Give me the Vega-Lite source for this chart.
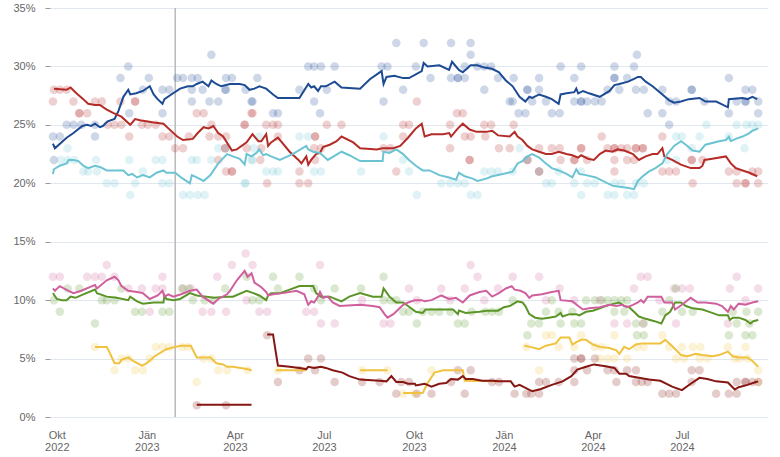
{
"$schema": "https://vega.github.io/schema/vega-lite/v6.json",
"width": 718, "height": 409, "autosize": "none",
"padding": {"left": 50, "top": 8, "right": 12, "bottom": 40},
"background": "white",
"config": {"view": {"stroke": null}, "font": "Liberation Sans",
 "axisY": {"values": [0, 5, 10, 15, 20, 25, 30, 35], "labelExpr": "datum.value + '%'", "grid": true, "gridColor": "#e1e7ee", "gridWidth": 1, "domain": false, "ticks": true, "tickSize": 5, "tickColor": "#999999", "labelPadding": 10, "labelColor": "#666666", "labelFontSize": 11, "labelFont": "Liberation Sans", "title": null},
 "range": {"category": ["#1c4b94","#b52b27","#6cc4d3","#5b9527","#cf609d","#f0c23f","#f0c23f","#861612"]}},
"datasets": {
"avg": [
{"d":"2022-09-27","p":"FPÖ","v":23.4},{"d":"2022-09-29","p":"FPÖ","v":23.0},{"d":"2022-10-11","p":"FPÖ","v":23.9},{"d":"2022-10-18","p":"FPÖ","v":24.3},{"d":"2022-10-27","p":"FPÖ","v":24.9},{"d":"2022-11-01","p":"FPÖ","v":25.0},{"d":"2022-11-05","p":"FPÖ","v":24.9},{"d":"2022-11-09","p":"FPÖ","v":25.1},{"d":"2022-11-14","p":"FPÖ","v":24.8},{"d":"2022-11-17","p":"FPÖ","v":24.9},{"d":"2022-11-22","p":"FPÖ","v":25.3},{"d":"2022-11-29","p":"FPÖ","v":25.5},{"d":"2022-12-03","p":"FPÖ","v":26.2},{"d":"2022-12-08","p":"FPÖ","v":27.4},{"d":"2022-12-13","p":"FPÖ","v":28.0},{"d":"2022-12-15","p":"FPÖ","v":27.6},{"d":"2022-12-21","p":"FPÖ","v":27.7},{"d":"2022-12-28","p":"FPÖ","v":27.9},{"d":"2023-01-04","p":"FPÖ","v":28.3},{"d":"2023-01-08","p":"FPÖ","v":27.6},{"d":"2023-01-12","p":"FPÖ","v":27.2},{"d":"2023-01-17","p":"FPÖ","v":26.8},{"d":"2023-01-19","p":"FPÖ","v":27.2},{"d":"2023-01-26","p":"FPÖ","v":27.6},{"d":"2023-02-04","p":"FPÖ","v":28.1},{"d":"2023-02-12","p":"FPÖ","v":28.3},{"d":"2023-02-17","p":"FPÖ","v":28.3},{"d":"2023-02-21","p":"FPÖ","v":28.5},{"d":"2023-02-27","p":"FPÖ","v":28.7},{"d":"2023-03-05","p":"FPÖ","v":28.3},{"d":"2023-03-08","p":"FPÖ","v":28.8},{"d":"2023-03-13","p":"FPÖ","v":28.5},{"d":"2023-03-18","p":"FPÖ","v":28.3},{"d":"2023-03-27","p":"FPÖ","v":28.5},{"d":"2023-04-06","p":"FPÖ","v":28.5},{"d":"2023-04-11","p":"FPÖ","v":28.4},{"d":"2023-04-16","p":"FPÖ","v":28.0},{"d":"2023-04-21","p":"FPÖ","v":28.1},{"d":"2023-04-26","p":"FPÖ","v":28.3},{"d":"2023-05-03","p":"FPÖ","v":28.1},{"d":"2023-05-10","p":"FPÖ","v":27.6},{"d":"2023-05-15","p":"FPÖ","v":27.3},{"d":"2023-06-06","p":"FPÖ","v":27.3},{"d":"2023-06-15","p":"FPÖ","v":28.5},{"d":"2023-06-18","p":"FPÖ","v":28.2},{"d":"2023-06-21","p":"FPÖ","v":28.3},{"d":"2023-06-25","p":"FPÖ","v":27.9},{"d":"2023-06-28","p":"FPÖ","v":28.3},{"d":"2023-07-03","p":"FPÖ","v":28.3},{"d":"2023-07-12","p":"FPÖ","v":28.7},{"d":"2023-07-19","p":"FPÖ","v":28.2},{"d":"2023-08-07","p":"FPÖ","v":28.1},{"d":"2023-08-17","p":"FPÖ","v":28.9},{"d":"2023-08-29","p":"FPÖ","v":29.6},{"d":"2023-08-31","p":"FPÖ","v":28.5},{"d":"2023-09-03","p":"FPÖ","v":29.1},{"d":"2023-09-11","p":"FPÖ","v":29.2},{"d":"2023-09-20","p":"FPÖ","v":29.0},{"d":"2023-09-26","p":"FPÖ","v":29.0},{"d":"2023-10-09","p":"FPÖ","v":29.6},{"d":"2023-10-11","p":"FPÖ","v":30.3},{"d":"2023-10-15","p":"FPÖ","v":30.0},{"d":"2023-10-27","p":"FPÖ","v":30.1},{"d":"2023-11-06","p":"FPÖ","v":29.7},{"d":"2023-11-09","p":"FPÖ","v":30.4},{"d":"2023-11-16","p":"FPÖ","v":29.7},{"d":"2023-11-20","p":"FPÖ","v":29.5},{"d":"2023-11-28","p":"FPÖ","v":30.1},{"d":"2023-12-05","p":"FPÖ","v":30.1},{"d":"2023-12-12","p":"FPÖ","v":29.9},{"d":"2023-12-20","p":"FPÖ","v":29.8},{"d":"2023-12-27","p":"FPÖ","v":29.5},{"d":"2024-01-03","p":"FPÖ","v":28.8},{"d":"2024-01-10","p":"FPÖ","v":28.3},{"d":"2024-01-17","p":"FPÖ","v":27.4},{"d":"2024-01-23","p":"FPÖ","v":27.0},{"d":"2024-01-27","p":"FPÖ","v":27.4},{"d":"2024-01-30","p":"FPÖ","v":27.3},{"d":"2024-02-06","p":"FPÖ","v":27.6},{"d":"2024-02-13","p":"FPÖ","v":27.4},{"d":"2024-02-19","p":"FPÖ","v":27.2},{"d":"2024-02-26","p":"FPÖ","v":26.8},{"d":"2024-02-28","p":"FPÖ","v":27.6},{"d":"2024-03-05","p":"FPÖ","v":27.7},{"d":"2024-03-13","p":"FPÖ","v":27.8},{"d":"2024-03-15","p":"FPÖ","v":28.1},{"d":"2024-03-17","p":"FPÖ","v":27.7},{"d":"2024-03-22","p":"FPÖ","v":27.9},{"d":"2024-03-28","p":"FPÖ","v":27.7},{"d":"2024-04-08","p":"FPÖ","v":27.4},{"d":"2024-04-18","p":"FPÖ","v":27.9},{"d":"2024-04-23","p":"FPÖ","v":28.4},{"d":"2024-04-28","p":"FPÖ","v":28.5},{"d":"2024-05-07","p":"FPÖ","v":28.7},{"d":"2024-05-12","p":"FPÖ","v":28.9},{"d":"2024-05-17","p":"FPÖ","v":29.1},{"d":"2024-05-20","p":"FPÖ","v":29.1},{"d":"2024-05-25","p":"FPÖ","v":28.7},{"d":"2024-06-01","p":"FPÖ","v":28.3},{"d":"2024-06-11","p":"FPÖ","v":27.6},{"d":"2024-06-18","p":"FPÖ","v":27.1},{"d":"2024-06-23","p":"FPÖ","v":26.9},{"d":"2024-06-30","p":"FPÖ","v":27.0},{"d":"2024-07-08","p":"FPÖ","v":27.2},{"d":"2024-07-19","p":"FPÖ","v":27.3},{"d":"2024-07-25","p":"FPÖ","v":27.0},{"d":"2024-08-05","p":"FPÖ","v":27.0},{"d":"2024-08-10","p":"FPÖ","v":26.8},{"d":"2024-08-17","p":"FPÖ","v":26.5},{"d":"2024-08-18","p":"FPÖ","v":27.2},{"d":"2024-09-01","p":"FPÖ","v":27.3},{"d":"2024-09-06","p":"FPÖ","v":27.2},{"d":"2024-09-11","p":"FPÖ","v":27.4},{"d":"2024-09-16","p":"FPÖ","v":27.2},
{"d":"2022-09-28","p":"SPÖ","v":28.1},{"d":"2022-10-11","p":"SPÖ","v":28.0},{"d":"2022-10-15","p":"SPÖ","v":28.2},{"d":"2022-10-21","p":"SPÖ","v":27.7},{"d":"2022-10-28","p":"SPÖ","v":27.2},{"d":"2022-11-02","p":"SPÖ","v":26.8},{"d":"2022-11-09","p":"SPÖ","v":26.7},{"d":"2022-11-14","p":"SPÖ","v":26.7},{"d":"2022-11-21","p":"SPÖ","v":26.3},{"d":"2022-11-28","p":"SPÖ","v":26.0},{"d":"2022-12-06","p":"SPÖ","v":25.7},{"d":"2022-12-15","p":"SPÖ","v":25.0},{"d":"2022-12-20","p":"SPÖ","v":25.5},{"d":"2022-12-25","p":"SPÖ","v":25.4},{"d":"2023-01-08","p":"SPÖ","v":25.2},{"d":"2023-01-18","p":"SPÖ","v":25.1},{"d":"2023-01-23","p":"SPÖ","v":24.7},{"d":"2023-02-01","p":"SPÖ","v":24.0},{"d":"2023-02-07","p":"SPÖ","v":23.7},{"d":"2023-02-17","p":"SPÖ","v":23.8},{"d":"2023-02-22","p":"SPÖ","v":24.3},{"d":"2023-02-28","p":"SPÖ","v":24.8},{"d":"2023-03-05","p":"SPÖ","v":24.7},{"d":"2023-03-10","p":"SPÖ","v":24.9},{"d":"2023-03-15","p":"SPÖ","v":24.3},{"d":"2023-03-20","p":"SPÖ","v":24.0},{"d":"2023-03-29","p":"SPÖ","v":22.8},{"d":"2023-04-03","p":"SPÖ","v":22.9},{"d":"2023-04-13","p":"SPÖ","v":23.5},{"d":"2023-04-19","p":"SPÖ","v":24.2},{"d":"2023-04-25","p":"SPÖ","v":23.6},{"d":"2023-04-28","p":"SPÖ","v":23.6},{"d":"2023-05-03","p":"SPÖ","v":24.2},{"d":"2023-05-05","p":"SPÖ","v":23.2},{"d":"2023-05-08","p":"SPÖ","v":23.5},{"d":"2023-05-15","p":"SPÖ","v":23.9},{"d":"2023-05-27","p":"SPÖ","v":22.7},{"d":"2023-06-05","p":"SPÖ","v":22.0},{"d":"2023-06-08","p":"SPÖ","v":21.7},{"d":"2023-06-13","p":"SPÖ","v":22.3},{"d":"2023-06-15","p":"SPÖ","v":21.6},{"d":"2023-06-18","p":"SPÖ","v":22.0},{"d":"2023-06-23","p":"SPÖ","v":22.5},{"d":"2023-06-27","p":"SPÖ","v":22.6},{"d":"2023-06-30","p":"SPÖ","v":23.1},{"d":"2023-07-07","p":"SPÖ","v":23.3},{"d":"2023-07-14","p":"SPÖ","v":23.6},{"d":"2023-07-19","p":"SPÖ","v":24.0},{"d":"2023-07-31","p":"SPÖ","v":23.5},{"d":"2023-08-07","p":"SPÖ","v":23.0},{"d":"2023-08-24","p":"SPÖ","v":22.9},{"d":"2023-08-30","p":"SPÖ","v":23.0},{"d":"2023-09-10","p":"SPÖ","v":23.0},{"d":"2023-09-17","p":"SPÖ","v":23.2},{"d":"2023-09-25","p":"SPÖ","v":23.9},{"d":"2023-10-03","p":"SPÖ","v":24.7},{"d":"2023-10-09","p":"SPÖ","v":25.1},{"d":"2023-10-12","p":"SPÖ","v":24.0},{"d":"2023-10-19","p":"SPÖ","v":24.2},{"d":"2023-10-31","p":"SPÖ","v":24.2},{"d":"2023-11-06","p":"SPÖ","v":24.3},{"d":"2023-11-08","p":"SPÖ","v":24.0},{"d":"2023-11-15","p":"SPÖ","v":24.7},{"d":"2023-11-20","p":"SPÖ","v":25.1},{"d":"2023-11-27","p":"SPÖ","v":24.6},{"d":"2023-12-04","p":"SPÖ","v":24.4},{"d":"2023-12-14","p":"SPÖ","v":24.4},{"d":"2023-12-20","p":"SPÖ","v":24.5},{"d":"2023-12-26","p":"SPÖ","v":24.1},{"d":"2024-01-07","p":"SPÖ","v":24.0},{"d":"2024-01-12","p":"SPÖ","v":24.4},{"d":"2024-01-15","p":"SPÖ","v":24.0},{"d":"2024-01-20","p":"SPÖ","v":23.7},{"d":"2024-01-25","p":"SPÖ","v":23.2},{"d":"2024-01-30","p":"SPÖ","v":22.9},{"d":"2024-02-06","p":"SPÖ","v":22.7},{"d":"2024-02-13","p":"SPÖ","v":22.5},{"d":"2024-02-19","p":"SPÖ","v":22.5},{"d":"2024-02-26","p":"SPÖ","v":22.7},{"d":"2024-03-05","p":"SPÖ","v":22.5},{"d":"2024-03-11","p":"SPÖ","v":22.4},{"d":"2024-03-17","p":"SPÖ","v":22.2},{"d":"2024-03-20","p":"SPÖ","v":22.4},{"d":"2024-03-27","p":"SPÖ","v":22.1},{"d":"2024-04-02","p":"SPÖ","v":22.0},{"d":"2024-04-08","p":"SPÖ","v":22.5},{"d":"2024-04-14","p":"SPÖ","v":22.8},{"d":"2024-04-21","p":"SPÖ","v":22.7},{"d":"2024-04-26","p":"SPÖ","v":22.9},{"d":"2024-05-03","p":"SPÖ","v":22.8},{"d":"2024-05-12","p":"SPÖ","v":22.5},{"d":"2024-05-18","p":"SPÖ","v":22.0},{"d":"2024-05-25","p":"SPÖ","v":22.3},{"d":"2024-06-01","p":"SPÖ","v":22.5},{"d":"2024-06-06","p":"SPÖ","v":22.5},{"d":"2024-06-11","p":"SPÖ","v":23.0},{"d":"2024-06-13","p":"SPÖ","v":22.3},{"d":"2024-06-21","p":"SPÖ","v":22.0},{"d":"2024-06-30","p":"SPÖ","v":21.6},{"d":"2024-07-10","p":"SPÖ","v":21.3},{"d":"2024-07-19","p":"SPÖ","v":21.3},{"d":"2024-07-22","p":"SPÖ","v":21.5},{"d":"2024-07-24","p":"SPÖ","v":22.0},{"d":"2024-08-01","p":"SPÖ","v":22.1},{"d":"2024-08-15","p":"SPÖ","v":22.3},{"d":"2024-08-20","p":"SPÖ","v":21.7},{"d":"2024-08-25","p":"SPÖ","v":21.3},{"d":"2024-09-01","p":"SPÖ","v":21.1},{"d":"2024-09-08","p":"SPÖ","v":20.9},{"d":"2024-09-16","p":"SPÖ","v":20.6},
{"d":"2022-09-27","p":"ÖVP","v":20.8},{"d":"2022-09-28","p":"ÖVP","v":21.2},{"d":"2022-10-04","p":"ÖVP","v":21.5},{"d":"2022-10-11","p":"ÖVP","v":21.7},{"d":"2022-10-13","p":"ÖVP","v":22.0},{"d":"2022-10-18","p":"ÖVP","v":22.0},{"d":"2022-10-23","p":"ÖVP","v":21.9},{"d":"2022-10-28","p":"ÖVP","v":21.5},{"d":"2022-11-02","p":"ÖVP","v":21.3},{"d":"2022-11-09","p":"ÖVP","v":21.5},{"d":"2022-11-14","p":"ÖVP","v":21.4},{"d":"2022-11-21","p":"ÖVP","v":21.1},{"d":"2022-12-08","p":"ÖVP","v":21.1},{"d":"2022-12-13","p":"ÖVP","v":20.7},{"d":"2022-12-17","p":"ÖVP","v":20.8},{"d":"2022-12-22","p":"ÖVP","v":20.5},{"d":"2022-12-28","p":"ÖVP","v":20.7},{"d":"2023-01-04","p":"ÖVP","v":20.5},{"d":"2023-01-11","p":"ÖVP","v":20.9},{"d":"2023-01-18","p":"ÖVP","v":21.1},{"d":"2023-01-21","p":"ÖVP","v":20.9},{"d":"2023-01-30","p":"ÖVP","v":20.9},{"d":"2023-02-05","p":"ÖVP","v":20.5},{"d":"2023-02-14","p":"ÖVP","v":20.0},{"d":"2023-02-16","p":"ÖVP","v":20.7},{"d":"2023-02-21","p":"ÖVP","v":20.5},{"d":"2023-02-28","p":"ÖVP","v":20.2},{"d":"2023-03-07","p":"ÖVP","v":20.7},{"d":"2023-03-15","p":"ÖVP","v":21.7},{"d":"2023-03-24","p":"ÖVP","v":22.5},{"d":"2023-03-30","p":"ÖVP","v":22.3},{"d":"2023-04-06","p":"ÖVP","v":22.1},{"d":"2023-04-11","p":"ÖVP","v":21.6},{"d":"2023-04-13","p":"ÖVP","v":22.5},{"d":"2023-04-18","p":"ÖVP","v":22.3},{"d":"2023-04-23","p":"ÖVP","v":22.6},{"d":"2023-04-26","p":"ÖVP","v":22.9},{"d":"2023-04-30","p":"ÖVP","v":22.4},{"d":"2023-05-03","p":"ÖVP","v":22.5},{"d":"2023-05-08","p":"ÖVP","v":22.3},{"d":"2023-05-17","p":"ÖVP","v":22.0},{"d":"2023-05-30","p":"ÖVP","v":22.5},{"d":"2023-06-13","p":"ÖVP","v":23.2},{"d":"2023-06-15","p":"ÖVP","v":22.9},{"d":"2023-06-20","p":"ÖVP","v":22.7},{"d":"2023-06-27","p":"ÖVP","v":22.6},{"d":"2023-07-05","p":"ÖVP","v":22.0},{"d":"2023-07-19","p":"ÖVP","v":22.7},{"d":"2023-07-27","p":"ÖVP","v":22.4},{"d":"2023-08-07","p":"ÖVP","v":21.9},{"d":"2023-08-30","p":"ÖVP","v":21.9},{"d":"2023-08-31","p":"ÖVP","v":22.7},{"d":"2023-09-06","p":"ÖVP","v":22.6},{"d":"2023-09-13","p":"ÖVP","v":22.9},{"d":"2023-09-20","p":"ÖVP","v":22.5},{"d":"2023-09-26","p":"ÖVP","v":22.0},{"d":"2023-10-03","p":"ÖVP","v":21.5},{"d":"2023-10-10","p":"ÖVP","v":21.1},{"d":"2023-10-17","p":"ÖVP","v":21.1},{"d":"2023-10-27","p":"ÖVP","v":20.7},{"d":"2023-11-06","p":"ÖVP","v":20.5},{"d":"2023-11-13","p":"ÖVP","v":20.3},{"d":"2023-11-16","p":"ÖVP","v":20.9},{"d":"2023-11-22","p":"ÖVP","v":20.6},{"d":"2023-11-30","p":"ÖVP","v":20.4},{"d":"2023-12-05","p":"ÖVP","v":20.2},{"d":"2023-12-14","p":"ÖVP","v":20.4},{"d":"2023-12-20","p":"ÖVP","v":20.6},{"d":"2023-12-31","p":"ÖVP","v":20.8},{"d":"2024-01-10","p":"ÖVP","v":21.0},{"d":"2024-01-15","p":"ÖVP","v":21.7},{"d":"2024-01-20","p":"ÖVP","v":21.9},{"d":"2024-01-25","p":"ÖVP","v":22.3},{"d":"2024-01-30","p":"ÖVP","v":22.5},{"d":"2024-02-06","p":"ÖVP","v":22.2},{"d":"2024-02-13","p":"ÖVP","v":21.7},{"d":"2024-02-19","p":"ÖVP","v":21.3},{"d":"2024-02-26","p":"ÖVP","v":21.1},{"d":"2024-03-05","p":"ÖVP","v":20.8},{"d":"2024-03-11","p":"ÖVP","v":20.5},{"d":"2024-03-15","p":"ÖVP","v":21.2},{"d":"2024-03-18","p":"ÖVP","v":20.8},{"d":"2024-03-25","p":"ÖVP","v":20.7},{"d":"2024-04-04","p":"ÖVP","v":20.5},{"d":"2024-04-11","p":"ÖVP","v":20.2},{"d":"2024-04-21","p":"ÖVP","v":19.8},{"d":"2024-04-28","p":"ÖVP","v":19.7},{"d":"2024-05-08","p":"ÖVP","v":19.6},{"d":"2024-05-13","p":"ÖVP","v":19.5},{"d":"2024-05-17","p":"ÖVP","v":20.2},{"d":"2024-05-22","p":"ÖVP","v":20.6},{"d":"2024-05-28","p":"ÖVP","v":21.0},{"d":"2024-06-04","p":"ÖVP","v":21.3},{"d":"2024-06-11","p":"ÖVP","v":21.7},{"d":"2024-06-16","p":"ÖVP","v":22.5},{"d":"2024-06-23","p":"ÖVP","v":23.2},{"d":"2024-06-30","p":"ÖVP","v":23.6},{"d":"2024-07-05","p":"ÖVP","v":23.3},{"d":"2024-07-12","p":"ÖVP","v":22.8},{"d":"2024-07-19","p":"ÖVP","v":22.7},{"d":"2024-07-25","p":"ÖVP","v":23.3},{"d":"2024-08-08","p":"ÖVP","v":23.6},{"d":"2024-08-15","p":"ÖVP","v":23.7},{"d":"2024-08-18","p":"ÖVP","v":24.0},{"d":"2024-08-20","p":"ÖVP","v":23.6},{"d":"2024-08-25","p":"ÖVP","v":23.8},{"d":"2024-09-01","p":"ÖVP","v":24.0},{"d":"2024-09-08","p":"ÖVP","v":24.3},{"d":"2024-09-11","p":"ÖVP","v":24.5},{"d":"2024-09-17","p":"ÖVP","v":24.7},
{"d":"2022-09-27","p":"Grüne","v":10.6},{"d":"2022-10-01","p":"Grüne","v":10.1},{"d":"2022-10-06","p":"Grüne","v":10.0},{"d":"2022-10-11","p":"Grüne","v":10.0},{"d":"2022-10-15","p":"Grüne","v":10.3},{"d":"2022-10-20","p":"Grüne","v":10.2},{"d":"2022-10-28","p":"Grüne","v":10.5},{"d":"2022-11-09","p":"Grüne","v":10.9},{"d":"2022-11-11","p":"Grüne","v":10.6},{"d":"2022-11-21","p":"Grüne","v":10.3},{"d":"2022-12-01","p":"Grüne","v":10.2},{"d":"2022-12-13","p":"Grüne","v":10.0},{"d":"2022-12-15","p":"Grüne","v":10.3},{"d":"2022-12-22","p":"Grüne","v":9.9},{"d":"2022-12-28","p":"Grüne","v":9.7},{"d":"2023-01-08","p":"Grüne","v":9.8},{"d":"2023-01-18","p":"Grüne","v":9.8},{"d":"2023-01-19","p":"Grüne","v":10.4},{"d":"2023-01-21","p":"Grüne","v":10.1},{"d":"2023-01-28","p":"Grüne","v":10.0},{"d":"2023-02-04","p":"Grüne","v":10.1},{"d":"2023-02-14","p":"Grüne","v":10.6},{"d":"2023-02-21","p":"Grüne","v":10.4},{"d":"2023-03-03","p":"Grüne","v":10.3},{"d":"2023-03-10","p":"Grüne","v":10.2},{"d":"2023-03-24","p":"Grüne","v":10.3},{"d":"2023-03-30","p":"Grüne","v":10.3},{"d":"2023-04-13","p":"Grüne","v":10.8},{"d":"2023-04-20","p":"Grüne","v":10.6},{"d":"2023-04-26","p":"Grüne","v":10.4},{"d":"2023-05-03","p":"Grüne","v":10.0},{"d":"2023-05-05","p":"Grüne","v":10.4},{"d":"2023-05-08","p":"Grüne","v":10.6},{"d":"2023-05-17","p":"Grüne","v":10.6},{"d":"2023-05-27","p":"Grüne","v":10.9},{"d":"2023-06-06","p":"Grüne","v":11.2},{"d":"2023-06-20","p":"Grüne","v":11.2},{"d":"2023-06-23","p":"Grüne","v":10.6},{"d":"2023-06-28","p":"Grüne","v":10.3},{"d":"2023-07-07","p":"Grüne","v":10.3},{"d":"2023-07-19","p":"Grüne","v":9.9},{"d":"2023-07-27","p":"Grüne","v":10.3},{"d":"2023-08-07","p":"Grüne","v":10.6},{"d":"2023-08-20","p":"Grüne","v":10.3},{"d":"2023-08-29","p":"Grüne","v":10.3},{"d":"2023-08-31","p":"Grüne","v":11.0},{"d":"2023-09-06","p":"Grüne","v":10.3},{"d":"2023-09-13","p":"Grüne","v":9.8},{"d":"2023-09-20","p":"Grüne","v":9.8},{"d":"2023-09-25","p":"Grüne","v":9.5},{"d":"2023-10-03","p":"Grüne","v":9.0},{"d":"2023-10-10","p":"Grüne","v":8.9},{"d":"2023-10-13","p":"Grüne","v":9.2},{"d":"2023-10-27","p":"Grüne","v":9.2},{"d":"2023-11-10","p":"Grüne","v":9.2},{"d":"2023-11-15","p":"Grüne","v":8.8},{"d":"2023-11-16","p":"Grüne","v":9.1},{"d":"2023-11-23","p":"Grüne","v":8.9},{"d":"2023-12-07","p":"Grüne","v":9.0},{"d":"2023-12-14","p":"Grüne","v":9.1},{"d":"2023-12-26","p":"Grüne","v":9.1},{"d":"2024-01-01","p":"Grüne","v":9.4},{"d":"2024-01-07","p":"Grüne","v":9.5},{"d":"2024-01-15","p":"Grüne","v":9.9},{"d":"2024-01-20","p":"Grüne","v":9.8},{"d":"2024-01-23","p":"Grüne","v":9.5},{"d":"2024-01-27","p":"Grüne","v":8.8},{"d":"2024-02-02","p":"Grüne","v":8.5},{"d":"2024-02-09","p":"Grüne","v":8.4},{"d":"2024-02-16","p":"Grüne","v":8.5},{"d":"2024-02-23","p":"Grüne","v":8.6},{"d":"2024-02-28","p":"Grüne","v":8.9},{"d":"2024-03-01","p":"Grüne","v":8.6},{"d":"2024-03-08","p":"Grüne","v":8.8},{"d":"2024-03-15","p":"Grüne","v":8.8},{"d":"2024-03-18","p":"Grüne","v":8.7},{"d":"2024-03-25","p":"Grüne","v":9.0},{"d":"2024-04-01","p":"Grüne","v":9.1},{"d":"2024-04-08","p":"Grüne","v":9.3},{"d":"2024-04-14","p":"Grüne","v":9.5},{"d":"2024-04-23","p":"Grüne","v":9.7},{"d":"2024-04-28","p":"Grüne","v":9.8},{"d":"2024-05-03","p":"Grüne","v":9.5},{"d":"2024-05-08","p":"Grüne","v":9.4},{"d":"2024-05-13","p":"Grüne","v":9.0},{"d":"2024-05-18","p":"Grüne","v":8.6},{"d":"2024-05-25","p":"Grüne","v":8.4},{"d":"2024-06-03","p":"Grüne","v":8.2},{"d":"2024-06-10","p":"Grüne","v":8.0},{"d":"2024-06-14","p":"Grüne","v":8.7},{"d":"2024-06-19","p":"Grüne","v":9.0},{"d":"2024-06-24","p":"Grüne","v":9.8},{"d":"2024-06-30","p":"Grüne","v":9.8},{"d":"2024-07-05","p":"Grüne","v":9.5},{"d":"2024-07-12","p":"Grüne","v":9.3},{"d":"2024-07-22","p":"Grüne","v":9.2},{"d":"2024-07-29","p":"Grüne","v":9.0},{"d":"2024-08-08","p":"Grüne","v":8.7},{"d":"2024-08-17","p":"Grüne","v":8.7},{"d":"2024-08-19","p":"Grüne","v":8.3},{"d":"2024-08-22","p":"Grüne","v":8.5},{"d":"2024-08-28","p":"Grüne","v":8.5},{"d":"2024-09-04","p":"Grüne","v":8.3},{"d":"2024-09-09","p":"Grüne","v":8.0},{"d":"2024-09-12","p":"Grüne","v":8.2},{"d":"2024-09-17","p":"Grüne","v":8.3},
{"d":"2022-09-27","p":"NEOS","v":11.0},{"d":"2022-09-29","p":"NEOS","v":10.8},{"d":"2022-10-04","p":"NEOS","v":11.2},{"d":"2022-10-13","p":"NEOS","v":10.8},{"d":"2022-10-18","p":"NEOS","v":10.6},{"d":"2022-10-26","p":"NEOS","v":10.8},{"d":"2022-11-09","p":"NEOS","v":11.3},{"d":"2022-11-11","p":"NEOS","v":11.0},{"d":"2022-11-21","p":"NEOS","v":11.7},{"d":"2022-11-29","p":"NEOS","v":12.0},{"d":"2022-12-03","p":"NEOS","v":11.7},{"d":"2022-12-06","p":"NEOS","v":11.2},{"d":"2022-12-13","p":"NEOS","v":10.8},{"d":"2022-12-22","p":"NEOS","v":10.7},{"d":"2022-12-28","p":"NEOS","v":10.6},{"d":"2023-01-04","p":"NEOS","v":10.1},{"d":"2023-01-12","p":"NEOS","v":10.4},{"d":"2023-01-17","p":"NEOS","v":10.8},{"d":"2023-01-19","p":"NEOS","v":10.3},{"d":"2023-01-23","p":"NEOS","v":10.5},{"d":"2023-01-28","p":"NEOS","v":10.3},{"d":"2023-02-05","p":"NEOS","v":10.5},{"d":"2023-02-14","p":"NEOS","v":10.8},{"d":"2023-02-21","p":"NEOS","v":10.9},{"d":"2023-02-27","p":"NEOS","v":10.3},{"d":"2023-03-10","p":"NEOS","v":9.7},{"d":"2023-03-15","p":"NEOS","v":10.1},{"d":"2023-03-24","p":"NEOS","v":10.5},{"d":"2023-03-27","p":"NEOS","v":10.8},{"d":"2023-04-03","p":"NEOS","v":11.7},{"d":"2023-04-11","p":"NEOS","v":12.5},{"d":"2023-04-14","p":"NEOS","v":12.0},{"d":"2023-04-18","p":"NEOS","v":12.3},{"d":"2023-04-21","p":"NEOS","v":11.5},{"d":"2023-04-28","p":"NEOS","v":11.1},{"d":"2023-05-03","p":"NEOS","v":10.7},{"d":"2023-05-05","p":"NEOS","v":10.4},{"d":"2023-05-10","p":"NEOS","v":10.5},{"d":"2023-05-20","p":"NEOS","v":10.6},{"d":"2023-06-03","p":"NEOS","v":10.8},{"d":"2023-06-11","p":"NEOS","v":10.5},{"d":"2023-06-15","p":"NEOS","v":9.6},{"d":"2023-06-18","p":"NEOS","v":9.9},{"d":"2023-06-21","p":"NEOS","v":9.8},{"d":"2023-06-25","p":"NEOS","v":10.3},{"d":"2023-06-27","p":"NEOS","v":10.7},{"d":"2023-06-30","p":"NEOS","v":10.2},{"d":"2023-07-05","p":"NEOS","v":10.3},{"d":"2023-07-10","p":"NEOS","v":9.8},{"d":"2023-07-17","p":"NEOS","v":9.5},{"d":"2023-08-07","p":"NEOS","v":9.6},{"d":"2023-08-20","p":"NEOS","v":9.5},{"d":"2023-08-27","p":"NEOS","v":9.4},{"d":"2023-09-01","p":"NEOS","v":8.8},{"d":"2023-09-04","p":"NEOS","v":8.5},{"d":"2023-09-10","p":"NEOS","v":8.8},{"d":"2023-09-15","p":"NEOS","v":9.2},{"d":"2023-09-20","p":"NEOS","v":9.6},{"d":"2023-09-25","p":"NEOS","v":9.8},{"d":"2023-10-02","p":"NEOS","v":10.0},{"d":"2023-10-09","p":"NEOS","v":10.0},{"d":"2023-10-12","p":"NEOS","v":9.9},{"d":"2023-10-19","p":"NEOS","v":10.0},{"d":"2023-10-29","p":"NEOS","v":10.4},{"d":"2023-11-06","p":"NEOS","v":10.1},{"d":"2023-11-13","p":"NEOS","v":10.2},{"d":"2023-11-20","p":"NEOS","v":9.8},{"d":"2023-11-27","p":"NEOS","v":10.4},{"d":"2023-12-07","p":"NEOS","v":10.7},{"d":"2023-12-14","p":"NEOS","v":10.8},{"d":"2023-12-20","p":"NEOS","v":10.3},{"d":"2023-12-27","p":"NEOS","v":10.6},{"d":"2024-01-03","p":"NEOS","v":11.0},{"d":"2024-01-09","p":"NEOS","v":11.2},{"d":"2024-01-12","p":"NEOS","v":10.9},{"d":"2024-01-18","p":"NEOS","v":10.8},{"d":"2024-01-23","p":"NEOS","v":10.6},{"d":"2024-01-27","p":"NEOS","v":10.2},{"d":"2024-01-30","p":"NEOS","v":10.4},{"d":"2024-02-09","p":"NEOS","v":10.5},{"d":"2024-02-19","p":"NEOS","v":10.7},{"d":"2024-02-26","p":"NEOS","v":10.8},{"d":"2024-02-28","p":"NEOS","v":10.0},{"d":"2024-03-11","p":"NEOS","v":9.9},{"d":"2024-03-17","p":"NEOS","v":9.5},{"d":"2024-03-22","p":"NEOS","v":9.2},{"d":"2024-03-28","p":"NEOS","v":9.3},{"d":"2024-04-08","p":"NEOS","v":9.4},{"d":"2024-04-18","p":"NEOS","v":9.6},{"d":"2024-04-25","p":"NEOS","v":9.5},{"d":"2024-05-01","p":"NEOS","v":9.6},{"d":"2024-05-06","p":"NEOS","v":9.4},{"d":"2024-05-12","p":"NEOS","v":9.6},{"d":"2024-05-17","p":"NEOS","v":9.8},{"d":"2024-05-20","p":"NEOS","v":10.0},{"d":"2024-05-23","p":"NEOS","v":9.8},{"d":"2024-05-27","p":"NEOS","v":10.3},{"d":"2024-06-04","p":"NEOS","v":10.3},{"d":"2024-06-10","p":"NEOS","v":10.3},{"d":"2024-06-13","p":"NEOS","v":9.8},{"d":"2024-06-21","p":"NEOS","v":9.8},{"d":"2024-06-24","p":"NEOS","v":9.2},{"d":"2024-07-01","p":"NEOS","v":9.6},{"d":"2024-07-10","p":"NEOS","v":10.2},{"d":"2024-07-17","p":"NEOS","v":9.8},{"d":"2024-07-25","p":"NEOS","v":9.8},{"d":"2024-08-05","p":"NEOS","v":9.7},{"d":"2024-08-11","p":"NEOS","v":9.5},{"d":"2024-08-17","p":"NEOS","v":9.0},{"d":"2024-08-20","p":"NEOS","v":9.5},{"d":"2024-08-23","p":"NEOS","v":9.2},{"d":"2024-08-28","p":"NEOS","v":9.7},{"d":"2024-09-04","p":"NEOS","v":9.6},{"d":"2024-09-11","p":"NEOS","v":9.8},{"d":"2024-09-17","p":"NEOS","v":9.9},
{"d":"2022-11-09","p":"MFG","s":1,"v":6.0},{"d":"2022-11-21","p":"MFG","s":1,"v":6.0},{"d":"2022-11-24","p":"MFG","s":1,"v":5.5},{"d":"2022-11-29","p":"MFG","s":1,"v":4.6},{"d":"2022-12-04","p":"MFG","s":1,"v":4.6},{"d":"2022-12-06","p":"MFG","s":1,"v":4.9},{"d":"2022-12-13","p":"MFG","s":1,"v":5.1},{"d":"2022-12-18","p":"MFG","s":1,"v":4.8},{"d":"2022-12-27","p":"MFG","s":1,"v":4.4},{"d":"2023-01-01","p":"MFG","s":1,"v":4.6},{"d":"2023-01-09","p":"MFG","s":1,"v":5.2},{"d":"2023-01-21","p":"MFG","s":1,"v":5.8},{"d":"2023-01-30","p":"MFG","s":1,"v":6.0},{"d":"2023-02-05","p":"MFG","s":1,"v":6.1},{"d":"2023-02-15","p":"MFG","s":1,"v":6.1},{"d":"2023-02-21","p":"MFG","s":1,"v":5.1},{"d":"2023-03-07","p":"MFG","s":1,"v":5.1},{"d":"2023-03-13","p":"MFG","s":1,"v":4.6},{"d":"2023-03-20","p":"MFG","s":1,"v":4.5},{"d":"2023-03-24","p":"MFG","s":1,"v":4.3},{"d":"2023-03-30","p":"MFG","s":1,"v":4.3},{"d":"2023-04-13","p":"MFG","s":1,"v":4.1},{"d":"2023-04-18","p":"MFG","s":1,"v":4.0},
{"d":"2023-05-13","p":"BIER","s":2,"v":4.0},{"d":"2023-06-13","p":"BIER","s":2,"v":4.0},
{"d":"2023-08-07","p":"BIER","s":3,"v":4.0},{"d":"2023-09-04","p":"BIER","s":3,"v":4.0},
{"d":"2023-09-20","p":"BIER","s":4,"v":2.05},{"d":"2023-10-10","p":"BIER","s":4,"v":2.05},{"d":"2023-10-15","p":"BIER","s":4,"v":2.9},{"d":"2023-10-22","p":"BIER","s":4,"v":3.8},{"d":"2023-10-31","p":"BIER","s":4,"v":4.0},{"d":"2023-11-20","p":"BIER","s":4,"v":4.0},{"d":"2023-11-22","p":"BIER","s":4,"v":3.1},{"d":"2023-12-27","p":"BIER","s":4,"v":3.05},
{"d":"2024-01-22","p":"BIER","s":5,"v":6.1},{"d":"2024-01-28","p":"BIER","s":5,"v":6.0},{"d":"2024-02-06","p":"BIER","s":5,"v":5.8},{"d":"2024-02-13","p":"BIER","s":5,"v":6.1},{"d":"2024-02-23","p":"BIER","s":5,"v":6.3},{"d":"2024-02-28","p":"BIER","s":5,"v":6.8},{"d":"2024-03-08","p":"BIER","s":5,"v":6.8},{"d":"2024-03-11","p":"BIER","s":5,"v":6.2},{"d":"2024-03-15","p":"BIER","s":5,"v":6.4},{"d":"2024-03-20","p":"BIER","s":5,"v":6.6},{"d":"2024-03-25","p":"BIER","s":5,"v":6.6},{"d":"2024-04-01","p":"BIER","s":5,"v":6.2},{"d":"2024-04-08","p":"BIER","s":5,"v":6.0},{"d":"2024-04-18","p":"BIER","s":5,"v":5.9},{"d":"2024-04-25","p":"BIER","s":5,"v":5.7},{"d":"2024-04-28","p":"BIER","s":5,"v":5.4},{"d":"2024-05-03","p":"BIER","s":5,"v":6.0},{"d":"2024-05-08","p":"BIER","s":5,"v":5.8},{"d":"2024-05-15","p":"BIER","s":5,"v":6.2},{"d":"2024-05-21","p":"BIER","s":5,"v":6.3},{"d":"2024-05-27","p":"BIER","s":5,"v":6.3},{"d":"2024-06-03","p":"BIER","s":5,"v":6.3},{"d":"2024-06-09","p":"BIER","s":5,"v":6.3},{"d":"2024-06-14","p":"BIER","s":5,"v":6.6},{"d":"2024-06-23","p":"BIER","s":5,"v":5.9},{"d":"2024-06-30","p":"BIER","s":5,"v":5.3},{"d":"2024-07-07","p":"BIER","s":5,"v":5.2},{"d":"2024-07-15","p":"BIER","s":5,"v":5.4},{"d":"2024-07-22","p":"BIER","s":5,"v":5.3},{"d":"2024-08-01","p":"BIER","s":5,"v":5.2},{"d":"2024-08-08","p":"BIER","s":5,"v":5.3},{"d":"2024-08-17","p":"BIER","s":5,"v":5.6},{"d":"2024-08-22","p":"BIER","s":5,"v":5.2},{"d":"2024-08-28","p":"BIER","s":5,"v":5.1},{"d":"2024-09-06","p":"BIER","s":5,"v":5.1},{"d":"2024-09-11","p":"BIER","s":5,"v":4.8},{"d":"2024-09-17","p":"BIER","s":5,"v":4.3},
{"d":"2023-02-21","p":"KPÖ","s":6,"v":1.05},{"d":"2023-04-18","p":"KPÖ","s":6,"v":1.05},
{"d":"2023-05-04","p":"KPÖ","s":7,"v":7.05},{"d":"2023-05-10","p":"KPÖ","s":7,"v":7.05},{"d":"2023-05-15","p":"KPÖ","s":7,"v":4.4},{"d":"2023-05-27","p":"KPÖ","s":7,"v":4.3},{"d":"2023-06-06","p":"KPÖ","s":7,"v":4.2},{"d":"2023-06-13","p":"KPÖ","s":7,"v":4.1},{"d":"2023-06-15","p":"KPÖ","s":7,"v":4.3},{"d":"2023-06-21","p":"KPÖ","s":7,"v":4.2},{"d":"2023-06-28","p":"KPÖ","s":7,"v":4.3},{"d":"2023-07-03","p":"KPÖ","s":7,"v":4.2},{"d":"2023-07-10","p":"KPÖ","s":7,"v":4.0},{"d":"2023-07-20","p":"KPÖ","s":7,"v":3.8},{"d":"2023-07-27","p":"KPÖ","s":7,"v":3.5},{"d":"2023-08-07","p":"KPÖ","s":7,"v":3.2},{"d":"2023-08-27","p":"KPÖ","s":7,"v":3.1},{"d":"2023-09-03","p":"KPÖ","s":7,"v":3.05},{"d":"2023-09-08","p":"KPÖ","s":7,"v":3.5},{"d":"2023-09-13","p":"KPÖ","s":7,"v":3.0},{"d":"2023-09-20","p":"KPÖ","s":7,"v":3.0},{"d":"2023-09-25","p":"KPÖ","s":7,"v":2.85},{"d":"2023-10-02","p":"KPÖ","s":7,"v":2.85},{"d":"2023-10-03","p":"KPÖ","s":7,"v":2.7},{"d":"2023-10-12","p":"KPÖ","s":7,"v":2.85},{"d":"2023-10-19","p":"KPÖ","s":7,"v":2.6},{"d":"2023-10-27","p":"KPÖ","s":7,"v":2.85},{"d":"2023-11-03","p":"KPÖ","s":7,"v":2.9},{"d":"2023-11-08","p":"KPÖ","s":7,"v":3.25},{"d":"2023-11-15","p":"KPÖ","s":7,"v":3.2},{"d":"2023-11-20","p":"KPÖ","s":7,"v":3.5},{"d":"2023-11-23","p":"KPÖ","s":7,"v":3.25},{"d":"2023-11-30","p":"KPÖ","s":7,"v":3.25},{"d":"2023-12-10","p":"KPÖ","s":7,"v":3.1},{"d":"2023-12-20","p":"KPÖ","s":7,"v":3.1},{"d":"2023-12-27","p":"KPÖ","s":7,"v":3.05},{"d":"2024-01-08","p":"KPÖ","s":7,"v":3.05},{"d":"2024-01-12","p":"KPÖ","s":7,"v":2.6},{"d":"2024-01-17","p":"KPÖ","s":7,"v":2.75},{"d":"2024-01-30","p":"KPÖ","s":7,"v":2.2},{"d":"2024-02-08","p":"KPÖ","s":7,"v":2.4},{"d":"2024-02-19","p":"KPÖ","s":7,"v":2.75},{"d":"2024-03-01","p":"KPÖ","s":7,"v":3.05},{"d":"2024-03-10","p":"KPÖ","s":7,"v":3.5},{"d":"2024-03-16","p":"KPÖ","s":7,"v":4.05},{"d":"2024-03-25","p":"KPÖ","s":7,"v":4.3},{"d":"2024-04-02","p":"KPÖ","s":7,"v":4.5},{"d":"2024-04-14","p":"KPÖ","s":7,"v":4.35},{"d":"2024-04-23","p":"KPÖ","s":7,"v":4.2},{"d":"2024-04-28","p":"KPÖ","s":7,"v":3.7},{"d":"2024-05-05","p":"KPÖ","s":7,"v":3.7},{"d":"2024-05-08","p":"KPÖ","s":7,"v":3.5},{"d":"2024-05-18","p":"KPÖ","s":7,"v":3.35},{"d":"2024-05-28","p":"KPÖ","s":7,"v":3.2},{"d":"2024-06-09","p":"KPÖ","s":7,"v":3.1},{"d":"2024-06-21","p":"KPÖ","s":7,"v":2.6},{"d":"2024-07-01","p":"KPÖ","s":7,"v":2.3},{"d":"2024-07-10","p":"KPÖ","s":7,"v":2.85},{"d":"2024-07-19","p":"KPÖ","s":7,"v":3.35},{"d":"2024-07-27","p":"KPÖ","s":7,"v":3.25},{"d":"2024-08-05","p":"KPÖ","s":7,"v":3.05},{"d":"2024-08-17","p":"KPÖ","s":7,"v":2.95},{"d":"2024-08-24","p":"KPÖ","s":7,"v":2.35},{"d":"2024-08-28","p":"KPÖ","s":7,"v":2.55},{"d":"2024-09-06","p":"KPÖ","s":7,"v":2.75},{"d":"2024-09-13","p":"KPÖ","s":7,"v":2.95},{"d":"2024-09-17","p":"KPÖ","s":7,"v":3.05}
],
"polls": [
{"d":"2022-09-27","p":"FPÖ","v":24},{"d":"2022-09-28","p":"FPÖ","v":22},{"d":"2022-10-04","p":"FPÖ","v":24},{"d":"2022-10-11","p":"FPÖ","v":25},{"d":"2022-10-18","p":"FPÖ","v":25},{"d":"2022-10-26","p":"FPÖ","v":25},{"d":"2022-11-09","p":"FPÖ","v":25},{"d":"2022-11-09","p":"FPÖ","v":24},{"d":"2022-12-05","p":"FPÖ","v":29},{"d":"2022-12-13","p":"FPÖ","v":30},{"d":"2022-12-14","p":"FPÖ","v":26},{"d":"2022-12-28","p":"FPÖ","v":28},{"d":"2023-01-03","p":"FPÖ","v":29},{"d":"2023-01-17","p":"FPÖ","v":28},{"d":"2023-01-24","p":"FPÖ","v":28},{"d":"2023-01-17","p":"FPÖ","v":26},{"d":"2023-02-01","p":"FPÖ","v":29},{"d":"2023-02-07","p":"FPÖ","v":29},{"d":"2023-02-16","p":"FPÖ","v":29},{"d":"2023-02-16","p":"FPÖ","v":28},{"d":"2023-02-16","p":"FPÖ","v":27},{"d":"2023-02-22","p":"FPÖ","v":29},{"d":"2023-02-27","p":"FPÖ","v":28},{"d":"2023-03-08","p":"FPÖ","v":31},{"d":"2023-03-06","p":"FPÖ","v":27},{"d":"2023-03-15","p":"FPÖ","v":27},{"d":"2023-03-23","p":"FPÖ","v":28},{"d":"2023-03-22","p":"FPÖ","v":28},{"d":"2023-03-23","p":"FPÖ","v":29},{"d":"2023-03-29","p":"FPÖ","v":29},{"d":"2023-04-12","p":"FPÖ","v":28},{"d":"2023-04-18","p":"FPÖ","v":27},{"d":"2023-04-24","p":"FPÖ","v":29},
{"d":"2023-09-13","p":"FPÖ","v":32},{"d":"2023-10-11","p":"FPÖ","v":32},{"d":"2023-11-08","p":"FPÖ","v":32},{"d":"2023-11-28","p":"FPÖ","v":32},{"d":"2023-11-28","p":"FPÖ","v":31},{"d":"2023-06-15","p":"FPÖ","v":30},{"d":"2023-06-21","p":"FPÖ","v":30},{"d":"2023-06-28","p":"FPÖ","v":30},{"d":"2023-07-12","p":"FPÖ","v":30},{"d":"2023-08-29","p":"FPÖ","v":30},{"d":"2023-09-04","p":"FPÖ","v":30},{"d":"2023-10-03","p":"FPÖ","v":30},{"d":"2023-11-22","p":"FPÖ","v":30},{"d":"2023-12-05","p":"FPÖ","v":30},{"d":"2023-12-12","p":"FPÖ","v":30},{"d":"2023-12-19","p":"FPÖ","v":30},{"d":"2023-10-18","p":"FPÖ","v":29},{"d":"2023-11-08","p":"FPÖ","v":29},{"d":"2023-11-15","p":"FPÖ","v":29},{"d":"2023-11-15","p":"FPÖ","v":29},{"d":"2023-11-22","p":"FPÖ","v":29},{"d":"2023-12-26","p":"FPÖ","v":29},{"d":"2023-06-06","p":"FPÖ","v":28},{"d":"2023-07-04","p":"FPÖ","v":28},{"d":"2023-09-20","p":"FPÖ","v":28},{"d":"2023-12-12","p":"FPÖ","v":28},{"d":"2023-04-19","p":"FPÖ","v":27},{"d":"2023-06-21","p":"FPÖ","v":27},{"d":"2023-08-31","p":"FPÖ","v":27},{"d":"2024-01-07","p":"FPÖ","v":27},{"d":"2023-05-10","p":"FPÖ","v":26},{"d":"2023-05-15","p":"FPÖ","v":26},{"d":"2023-06-27","p":"FPÖ","v":26},
{"d":"2024-05-16","p":"FPÖ","v":31},{"d":"2024-02-28","p":"FPÖ","v":30},{"d":"2024-03-20","p":"FPÖ","v":30},{"d":"2024-04-23","p":"FPÖ","v":30},{"d":"2024-05-13","p":"FPÖ","v":30},{"d":"2024-01-11","p":"FPÖ","v":29},{"d":"2024-02-06","p":"FPÖ","v":29},{"d":"2024-03-13","p":"FPÖ","v":29},{"d":"2024-04-23","p":"FPÖ","v":29},{"d":"2024-04-23","p":"FPÖ","v":29},{"d":"2024-05-06","p":"FPÖ","v":29},{"d":"2024-08-18","p":"FPÖ","v":29},{"d":"2024-01-25","p":"FPÖ","v":28},{"d":"2024-01-25","p":"FPÖ","v":28},{"d":"2024-02-06","p":"FPÖ","v":28},{"d":"2024-04-16","p":"FPÖ","v":28},{"d":"2024-04-28","p":"FPÖ","v":28},{"d":"2024-05-15","p":"FPÖ","v":28},{"d":"2024-05-23","p":"FPÖ","v":28},{"d":"2024-06-11","p":"FPÖ","v":28},{"d":"2024-07-11","p":"FPÖ","v":28},{"d":"2024-07-11","p":"FPÖ","v":28},{"d":"2024-09-04","p":"FPÖ","v":28},{"d":"2024-09-11","p":"FPÖ","v":28},{"d":"2024-01-10","p":"FPÖ","v":27},{"d":"2024-01-30","p":"FPÖ","v":27},{"d":"2024-02-13","p":"FPÖ","v":27},{"d":"2024-03-13","p":"FPÖ","v":27},{"d":"2024-03-20","p":"FPÖ","v":27},{"d":"2024-03-20","p":"FPÖ","v":27},{"d":"2024-03-26","p":"FPÖ","v":27},{"d":"2024-04-03","p":"FPÖ","v":27},{"d":"2024-04-10","p":"FPÖ","v":27},{"d":"2024-06-18","p":"FPÖ","v":27},{"d":"2024-06-25","p":"FPÖ","v":27},{"d":"2024-07-24","p":"FPÖ","v":27},{"d":"2024-08-26","p":"FPÖ","v":27},{"d":"2024-09-04","p":"FPÖ","v":27},{"d":"2024-09-04","p":"FPÖ","v":27},{"d":"2024-09-17","p":"FPÖ","v":27},{"d":"2024-01-16","p":"FPÖ","v":26},{"d":"2024-01-23","p":"FPÖ","v":26},{"d":"2024-02-19","p":"FPÖ","v":26},{"d":"2024-02-27","p":"FPÖ","v":26},{"d":"2024-05-27","p":"FPÖ","v":26},{"d":"2024-06-11","p":"FPÖ","v":26},{"d":"2024-08-18","p":"FPÖ","v":26},{"d":"2024-09-17","p":"FPÖ","v":26},{"d":"2024-06-18","p":"FPÖ","v":25},
{"d":"2022-09-27","p":"SPÖ","v":27},{"d":"2022-09-28","p":"SPÖ","v":28},{"d":"2022-10-04","p":"SPÖ","v":28},{"d":"2022-10-11","p":"SPÖ","v":28},{"d":"2022-10-18","p":"SPÖ","v":27},{"d":"2022-10-24","p":"SPÖ","v":26},{"d":"2022-10-24","p":"SPÖ","v":26},{"d":"2022-11-01","p":"SPÖ","v":26},{"d":"2022-11-09","p":"SPÖ","v":27},{"d":"2022-11-16","p":"SPÖ","v":27},{"d":"2022-11-22","p":"SPÖ","v":25},{"d":"2022-11-29","p":"SPÖ","v":25},{"d":"2022-12-05","p":"SPÖ","v":27},{"d":"2022-12-06","p":"SPÖ","v":25},{"d":"2022-12-14","p":"SPÖ","v":24},{"d":"2022-12-20","p":"SPÖ","v":27},{"d":"2022-12-20","p":"SPÖ","v":27},{"d":"2022-12-27","p":"SPÖ","v":25},{"d":"2023-01-02","p":"SPÖ","v":25},{"d":"2023-01-10","p":"SPÖ","v":25},{"d":"2023-01-17","p":"SPÖ","v":24},{"d":"2023-01-24","p":"SPÖ","v":24},{"d":"2023-01-30","p":"SPÖ","v":23},{"d":"2023-02-07","p":"SPÖ","v":23},{"d":"2023-02-13","p":"SPÖ","v":24},{"d":"2023-02-21","p":"SPÖ","v":26},{"d":"2023-02-28","p":"SPÖ","v":26},{"d":"2023-03-08","p":"SPÖ","v":25},{"d":"2023-03-06","p":"SPÖ","v":24},{"d":"2023-03-15","p":"SPÖ","v":24},{"d":"2023-03-23","p":"SPÖ","v":24},{"d":"2023-03-22","p":"SPÖ","v":23},{"d":"2023-03-22","p":"SPÖ","v":23},{"d":"2023-04-11","p":"SPÖ","v":25},{"d":"2023-04-11","p":"SPÖ","v":25},{"d":"2023-04-18","p":"SPÖ","v":26},{"d":"2023-04-13","p":"SPÖ","v":23},{"d":"2023-03-15","p":"SPÖ","v":22},{"d":"2023-03-23","p":"SPÖ","v":21},{"d":"2023-03-29","p":"SPÖ","v":21},{"d":"2023-03-29","p":"SPÖ","v":21},
{"d":"2023-10-04","p":"SPÖ","v":27},{"d":"2023-04-19","p":"SPÖ","v":26},{"d":"2023-11-14","p":"SPÖ","v":26},{"d":"2023-11-20","p":"SPÖ","v":26},{"d":"2023-05-03","p":"SPÖ","v":25},{"d":"2023-05-10","p":"SPÖ","v":25},{"d":"2023-05-15","p":"SPÖ","v":25},{"d":"2023-07-04","p":"SPÖ","v":25},{"d":"2023-07-19","p":"SPÖ","v":25},{"d":"2023-09-20","p":"SPÖ","v":25},{"d":"2023-09-26","p":"SPÖ","v":25},{"d":"2023-11-07","p":"SPÖ","v":25},{"d":"2023-12-12","p":"SPÖ","v":25},{"d":"2023-12-19","p":"SPÖ","v":25},{"d":"2023-05-15","p":"SPÖ","v":24},{"d":"2023-06-22","p":"SPÖ","v":24},{"d":"2023-06-22","p":"SPÖ","v":24},{"d":"2023-09-20","p":"SPÖ","v":24},{"d":"2023-11-22","p":"SPÖ","v":24},{"d":"2023-11-28","p":"SPÖ","v":24},{"d":"2023-12-13","p":"SPÖ","v":24},{"d":"2023-04-28","p":"SPÖ","v":23},{"d":"2023-06-21","p":"SPÖ","v":23},{"d":"2023-06-28","p":"SPÖ","v":23},{"d":"2023-08-31","p":"SPÖ","v":23},{"d":"2023-09-07","p":"SPÖ","v":23},{"d":"2023-11-07","p":"SPÖ","v":23},{"d":"2024-01-07","p":"SPÖ","v":23},{"d":"2023-04-27","p":"SPÖ","v":22},{"d":"2023-06-22","p":"SPÖ","v":22},{"d":"2023-11-27","p":"SPÖ","v":22},{"d":"2023-11-27","p":"SPÖ","v":22},{"d":"2023-06-06","p":"SPÖ","v":21},{"d":"2023-09-13","p":"SPÖ","v":21},{"d":"2023-05-04","p":"SPÖ","v":20},{"d":"2023-06-06","p":"SPÖ","v":20},{"d":"2023-06-15","p":"SPÖ","v":20},
{"d":"2024-01-11","p":"SPÖ","v":25},{"d":"2024-04-10","p":"SPÖ","v":24},{"d":"2024-06-11","p":"SPÖ","v":24},{"d":"2023-12-27","p":"SPÖ","v":23},{"d":"2024-02-06","p":"SPÖ","v":23},{"d":"2024-02-19","p":"SPÖ","v":23},{"d":"2024-02-27","p":"SPÖ","v":23},{"d":"2024-03-20","p":"SPÖ","v":23},{"d":"2024-03-20","p":"SPÖ","v":23},{"d":"2024-04-16","p":"SPÖ","v":23},{"d":"2024-04-23","p":"SPÖ","v":23},{"d":"2024-04-23","p":"SPÖ","v":23},{"d":"2024-04-30","p":"SPÖ","v":23},{"d":"2024-05-06","p":"SPÖ","v":23},{"d":"2024-05-15","p":"SPÖ","v":23},{"d":"2024-05-15","p":"SPÖ","v":23},{"d":"2024-05-22","p":"SPÖ","v":23},{"d":"2024-05-22","p":"SPÖ","v":23},{"d":"2024-01-25","p":"SPÖ","v":22},{"d":"2024-01-25","p":"SPÖ","v":22},{"d":"2024-02-28","p":"SPÖ","v":22},{"d":"2024-03-13","p":"SPÖ","v":22},{"d":"2024-03-13","p":"SPÖ","v":22},{"d":"2024-03-26","p":"SPÖ","v":22},{"d":"2024-04-23","p":"SPÖ","v":22},{"d":"2024-05-06","p":"SPÖ","v":22},{"d":"2024-05-13","p":"SPÖ","v":22},{"d":"2024-07-11","p":"SPÖ","v":22},{"d":"2024-07-11","p":"SPÖ","v":22},{"d":"2024-07-22","p":"SPÖ","v":22},{"d":"2024-02-06","p":"SPÖ","v":21},{"d":"2024-02-06","p":"SPÖ","v":21},{"d":"2024-04-23","p":"SPÖ","v":21},{"d":"2024-06-11","p":"SPÖ","v":21},{"d":"2024-06-18","p":"SPÖ","v":21},{"d":"2024-06-25","p":"SPÖ","v":21},{"d":"2024-08-18","p":"SPÖ","v":21},{"d":"2024-08-26","p":"SPÖ","v":21},{"d":"2024-09-11","p":"SPÖ","v":21},{"d":"2024-09-17","p":"SPÖ","v":21},{"d":"2024-07-12","p":"SPÖ","v":20},{"d":"2024-08-26","p":"SPÖ","v":20},{"d":"2024-09-04","p":"SPÖ","v":20},{"d":"2024-09-04","p":"SPÖ","v":20},{"d":"2024-09-17","p":"SPÖ","v":20},
{"d":"2022-10-05","p":"ÖVP","v":22},{"d":"2022-10-12","p":"ÖVP","v":22},{"d":"2022-10-19","p":"ÖVP","v":22},{"d":"2022-11-10","p":"ÖVP","v":22},{"d":"2022-10-12","p":"ÖVP","v":23},{"d":"2022-10-28","p":"ÖVP","v":21},{"d":"2022-11-02","p":"ÖVP","v":21},{"d":"2022-11-11","p":"ÖVP","v":21},{"d":"2022-11-21","p":"ÖVP","v":20},{"d":"2022-11-29","p":"ÖVP","v":20},{"d":"2022-12-14","p":"ÖVP","v":22},{"d":"2022-12-15","p":"ÖVP","v":19},{"d":"2022-12-20","p":"ÖVP","v":20},{"d":"2022-12-28","p":"ÖVP","v":21},{"d":"2023-01-10","p":"ÖVP","v":22},{"d":"2023-01-17","p":"ÖVP","v":22},{"d":"2023-01-17","p":"ÖVP","v":20},{"d":"2023-01-24","p":"ÖVP","v":20},{"d":"2023-02-07","p":"ÖVP","v":19},{"d":"2023-02-14","p":"ÖVP","v":19},{"d":"2023-02-22","p":"ÖVP","v":19},{"d":"2023-03-01","p":"ÖVP","v":19},{"d":"2023-02-16","p":"ÖVP","v":22},{"d":"2023-02-21","p":"ÖVP","v":22},{"d":"2023-03-08","p":"ÖVP","v":22},{"d":"2023-03-15","p":"ÖVP","v":23},{"d":"2023-03-24","p":"ÖVP","v":23},{"d":"2023-04-12","p":"ÖVP","v":20},{"d":"2023-04-18","p":"ÖVP","v":22},{"d":"2023-04-20","p":"ÖVP","v":23},
{"d":"2023-04-26","p":"ÖVP","v":24},{"d":"2023-06-06","p":"ÖVP","v":24},{"d":"2023-06-15","p":"ÖVP","v":24},{"d":"2023-08-31","p":"ÖVP","v":24},{"d":"2023-04-19","p":"ÖVP","v":22},{"d":"2023-09-20","p":"ÖVP","v":22},{"d":"2023-05-03","p":"ÖVP","v":21},{"d":"2023-05-10","p":"ÖVP","v":21},{"d":"2023-05-15","p":"ÖVP","v":21},{"d":"2023-06-21","p":"ÖVP","v":21},{"d":"2023-06-28","p":"ÖVP","v":21},{"d":"2023-08-08","p":"ÖVP","v":21},{"d":"2023-09-26","p":"ÖVP","v":21},{"d":"2023-12-12","p":"ÖVP","v":21},{"d":"2023-12-19","p":"ÖVP","v":21},{"d":"2023-12-26","p":"ÖVP","v":21},{"d":"2023-04-11","p":"ÖVP","v":20},{"d":"2023-10-29","p":"ÖVP","v":20},{"d":"2023-11-07","p":"ÖVP","v":20},{"d":"2023-11-15","p":"ÖVP","v":20},{"d":"2023-11-22","p":"ÖVP","v":20},{"d":"2023-10-04","p":"ÖVP","v":19},{"d":"2023-11-28","p":"ÖVP","v":19},{"d":"2023-12-05","p":"ÖVP","v":19},
{"d":"2024-06-25","p":"ÖVP","v":24},{"d":"2024-07-01","p":"ÖVP","v":24},{"d":"2024-08-18","p":"ÖVP","v":24},{"d":"2024-07-19","p":"ÖVP","v":24},{"d":"2024-07-26","p":"ÖVP","v":25},{"d":"2024-08-26","p":"ÖVP","v":25},{"d":"2024-09-05","p":"ÖVP","v":25},{"d":"2024-09-11","p":"ÖVP","v":25},{"d":"2024-09-17","p":"ÖVP","v":25},{"d":"2024-01-17","p":"ÖVP","v":23},{"d":"2024-07-11","p":"ÖVP","v":23},{"d":"2024-09-03","p":"ÖVP","v":23},{"d":"2024-01-25","p":"ÖVP","v":22},{"d":"2024-06-16","p":"ÖVP","v":22},{"d":"2024-06-25","p":"ÖVP","v":22},{"d":"2024-01-10","p":"ÖVP","v":21},{"d":"2024-02-06","p":"ÖVP","v":21},{"d":"2024-02-26","p":"ÖVP","v":21},{"d":"2024-03-20","p":"ÖVP","v":21},{"d":"2024-02-13","p":"ÖVP","v":20},{"d":"2024-02-19","p":"ÖVP","v":20},{"d":"2024-03-13","p":"ÖVP","v":20},{"d":"2024-03-26","p":"ÖVP","v":20},{"d":"2024-04-03","p":"ÖVP","v":20},{"d":"2024-04-23","p":"ÖVP","v":20},{"d":"2024-04-30","p":"ÖVP","v":20},{"d":"2024-05-15","p":"ÖVP","v":20},{"d":"2024-05-23","p":"ÖVP","v":20},{"d":"2024-03-20","p":"ÖVP","v":19},{"d":"2024-04-16","p":"ÖVP","v":19},{"d":"2024-04-23","p":"ÖVP","v":19},{"d":"2024-05-06","p":"ÖVP","v":19},{"d":"2024-05-13","p":"ÖVP","v":19},
{"d":"2022-09-27","p":"NEOS","v":12},{"d":"2022-10-04","p":"NEOS","v":12},{"d":"2022-11-01","p":"NEOS","v":12},{"d":"2022-11-09","p":"NEOS","v":12},{"d":"2022-11-16","p":"NEOS","v":12},{"d":"2022-11-21","p":"NEOS","v":13},{"d":"2022-11-29","p":"NEOS","v":12},{"d":"2022-12-13","p":"NEOS","v":11},{"d":"2022-12-27","p":"NEOS","v":11},{"d":"2023-01-04","p":"NEOS","v":9},{"d":"2023-01-10","p":"NEOS","v":11},{"d":"2023-01-17","p":"NEOS","v":11},{"d":"2023-01-17","p":"NEOS","v":12},{"d":"2023-02-07","p":"NEOS","v":11},{"d":"2023-02-15","p":"NEOS","v":11},{"d":"2023-02-27","p":"NEOS","v":9},{"d":"2023-03-08","p":"NEOS","v":9},{"d":"2023-03-14","p":"NEOS","v":12},{"d":"2023-03-23","p":"NEOS","v":9},{"d":"2023-03-29","p":"NEOS","v":13},{"d":"2023-04-12","p":"NEOS","v":14},{"d":"2023-04-19","p":"NEOS","v":13},{"d":"2023-04-13","p":"NEOS","v":10},{"d":"2023-06-27","p":"NEOS","v":13},{"d":"2023-11-28","p":"NEOS","v":13},{"d":"2023-12-05","p":"NEOS","v":12},{"d":"2023-04-26","p":"NEOS","v":9},{"d":"2023-05-04","p":"NEOS","v":9},{"d":"2023-06-13","p":"NEOS","v":9},{"d":"2023-06-21","p":"NEOS","v":9},{"d":"2023-06-28","p":"NEOS","v":8},{"d":"2023-07-12","p":"NEOS","v":8},{"d":"2023-08-31","p":"NEOS","v":8},{"d":"2023-09-07","p":"NEOS","v":8},{"d":"2023-09-26","p":"NEOS","v":11},{"d":"2023-10-29","p":"NEOS","v":11},{"d":"2023-11-22","p":"NEOS","v":11},{"d":"2023-12-26","p":"NEOS","v":11},{"d":"2023-10-04","p":"NEOS","v":10},{"d":"2023-11-07","p":"NEOS","v":10},{"d":"2023-12-12","p":"NEOS","v":10},{"d":"2023-08-09","p":"NEOS","v":10},{"d":"2024-01-10","p":"NEOS","v":12},{"d":"2024-02-06","p":"NEOS","v":12},{"d":"2024-05-20","p":"NEOS","v":12},{"d":"2024-05-27","p":"NEOS","v":12},{"d":"2024-08-26","p":"NEOS","v":12},{"d":"2024-02-27","p":"NEOS","v":11},{"d":"2024-05-13","p":"NEOS","v":11},{"d":"2024-06-23","p":"NEOS","v":11},{"d":"2024-07-01","p":"NEOS","v":11},{"d":"2024-07-09","p":"NEOS","v":11},{"d":"2024-08-19","p":"NEOS","v":11},{"d":"2024-09-17","p":"NEOS","v":11},{"d":"2024-04-23","p":"NEOS","v":8},{"d":"2024-05-06","p":"NEOS","v":8},{"d":"2024-05-22","p":"NEOS","v":8},{"d":"2024-06-25","p":"NEOS","v":8},{"d":"2024-08-17","p":"NEOS","v":8},{"d":"2024-02-13","p":"NEOS","v":10},{"d":"2024-03-13","p":"NEOS","v":10},{"d":"2024-04-08","p":"NEOS","v":10},{"d":"2024-06-08","p":"NEOS","v":10},{"d":"2024-09-04","p":"NEOS","v":10},
{"d":"2022-09-28","p":"Grüne","v":10},{"d":"2022-10-04","p":"Grüne","v":9},{"d":"2022-10-12","p":"Grüne","v":11},{"d":"2022-10-24","p":"Grüne","v":11},{"d":"2022-11-09","p":"Grüne","v":8},{"d":"2022-11-16","p":"Grüne","v":10},{"d":"2022-11-21","p":"Grüne","v":10},{"d":"2022-11-29","p":"Grüne","v":10},{"d":"2022-12-06","p":"Grüne","v":11},{"d":"2022-12-20","p":"Grüne","v":9},{"d":"2022-12-27","p":"Grüne","v":9},{"d":"2023-01-17","p":"Grüne","v":9},{"d":"2023-01-24","p":"Grüne","v":9},{"d":"2023-02-06","p":"Grüne","v":11},{"d":"2023-02-13","p":"Grüne","v":11},{"d":"2023-02-17","p":"Grüne","v":10},{"d":"2023-03-01","p":"Grüne","v":10},{"d":"2023-03-09","p":"Grüne","v":10},{"d":"2023-03-22","p":"Grüne","v":11},{"d":"2023-04-13","p":"Grüne","v":12},{"d":"2023-04-26","p":"Grüne","v":10},{"d":"2023-05-10","p":"Grüne","v":12},{"d":"2023-06-06","p":"Grüne","v":12},{"d":"2023-08-31","p":"Grüne","v":12},{"d":"2023-05-15","p":"Grüne","v":11},{"d":"2023-06-21","p":"Grüne","v":11},{"d":"2023-07-12","p":"Grüne","v":11},{"d":"2023-08-08","p":"Grüne","v":11},{"d":"2023-04-19","p":"Grüne","v":10},{"d":"2023-06-28","p":"Grüne","v":10},{"d":"2023-08-31","p":"Grüne","v":10},{"d":"2023-09-07","p":"Grüne","v":10},{"d":"2023-09-13","p":"Grüne","v":10},{"d":"2023-09-20","p":"Grüne","v":9},{"d":"2023-09-26","p":"Grüne","v":9},{"d":"2023-10-04","p":"Grüne","v":8},{"d":"2023-10-10","p":"Grüne","v":9},{"d":"2023-10-19","p":"Grüne","v":9},{"d":"2023-10-27","p":"Grüne","v":9},{"d":"2023-11-07","p":"Grüne","v":9},{"d":"2023-11-15","p":"Grüne","v":8},{"d":"2023-11-22","p":"Grüne","v":8},{"d":"2023-11-29","p":"Grüne","v":9},{"d":"2023-12-13","p":"Grüne","v":9},{"d":"2023-12-20","p":"Grüne","v":9},{"d":"2023-12-27","p":"Grüne","v":9},
{"d":"2024-01-10","p":"Grüne","v":10},{"d":"2024-02-19","p":"Grüne","v":10},{"d":"2024-03-25","p":"Grüne","v":10},{"d":"2024-04-03","p":"Grüne","v":10},{"d":"2024-04-10","p":"Grüne","v":10},{"d":"2024-04-16","p":"Grüne","v":10},{"d":"2024-04-23","p":"Grüne","v":10},{"d":"2024-04-30","p":"Grüne","v":10},{"d":"2024-05-06","p":"Grüne","v":10},{"d":"2024-06-18","p":"Grüne","v":10},{"d":"2024-06-25","p":"Grüne","v":11},{"d":"2024-02-13","p":"Grüne","v":9},{"d":"2024-02-26","p":"Grüne","v":9},{"d":"2024-03-11","p":"Grüne","v":9},{"d":"2024-04-23","p":"Grüne","v":9},{"d":"2024-05-03","p":"Grüne","v":9},{"d":"2024-06-11","p":"Grüne","v":9},{"d":"2024-07-01","p":"Grüne","v":9},{"d":"2024-07-12","p":"Grüne","v":9},{"d":"2024-08-22","p":"Grüne","v":9},{"d":"2024-09-05","p":"Grüne","v":9},{"d":"2024-09-17","p":"Grüne","v":9},{"d":"2024-01-29","p":"Grüne","v":8},{"d":"2024-02-06","p":"Grüne","v":8},{"d":"2024-02-28","p":"Grüne","v":8},{"d":"2024-03-13","p":"Grüne","v":8},{"d":"2024-03-20","p":"Grüne","v":8},{"d":"2024-05-15","p":"Grüne","v":8},{"d":"2024-05-23","p":"Grüne","v":8},{"d":"2024-08-26","p":"Grüne","v":8},{"d":"2024-09-08","p":"Grüne","v":8},{"d":"2024-01-25","p":"Grüne","v":7},{"d":"2024-05-16","p":"Grüne","v":7},{"d":"2024-05-23","p":"Grüne","v":7},{"d":"2024-08-18","p":"Grüne","v":7},{"d":"2024-09-04","p":"Grüne","v":7},{"d":"2024-09-11","p":"Grüne","v":7},
{"d":"2022-11-09","p":"MFG","v":6},{"d":"2023-01-10","p":"MFG","v":6},{"d":"2023-01-17","p":"MFG","v":6},{"d":"2023-01-24","p":"MFG","v":6},{"d":"2023-02-06","p":"MFG","v":6},{"d":"2023-02-12","p":"MFG","v":6},{"d":"2022-11-29","p":"MFG","v":4},{"d":"2022-12-06","p":"MFG","v":5},{"d":"2022-12-13","p":"MFG","v":5},{"d":"2022-12-20","p":"MFG","v":4},{"d":"2022-12-28","p":"MFG","v":4},{"d":"2023-01-04","p":"MFG","v":5},{"d":"2023-02-21","p":"MFG","v":3},{"d":"2023-02-28","p":"MFG","v":5},{"d":"2023-03-08","p":"MFG","v":5},{"d":"2023-03-15","p":"MFG","v":4},{"d":"2023-03-24","p":"MFG","v":4},{"d":"2023-04-14","p":"MFG","v":4},
{"d":"2023-05-15","p":"BIER","v":4},{"d":"2023-08-09","p":"BIER","v":4},{"d":"2023-09-04","p":"BIER","v":4},{"d":"2023-10-19","p":"BIER","v":4},{"d":"2023-09-20","p":"BIER","v":2},{"d":"2023-10-02","p":"BIER","v":2},{"d":"2024-02-13","p":"BIER","v":7},{"d":"2024-02-19","p":"BIER","v":7},{"d":"2024-03-20","p":"BIER","v":7},{"d":"2024-04-23","p":"BIER","v":7},{"d":"2024-06-11","p":"BIER","v":7},{"d":"2024-01-24","p":"BIER","v":6},{"d":"2024-02-26","p":"BIER","v":6},{"d":"2024-03-13","p":"BIER","v":6},{"d":"2024-04-03","p":"BIER","v":6},{"d":"2024-04-10","p":"BIER","v":6},{"d":"2024-05-16","p":"BIER","v":6},{"d":"2024-05-23","p":"BIER","v":6},{"d":"2024-06-18","p":"BIER","v":6},{"d":"2024-07-01","p":"BIER","v":6},{"d":"2024-07-12","p":"BIER","v":6},{"d":"2024-07-20","p":"BIER","v":6},{"d":"2024-08-17","p":"BIER","v":6},{"d":"2024-09-04","p":"BIER","v":6},{"d":"2024-04-08","p":"BIER","v":5},{"d":"2024-04-16","p":"BIER","v":5},{"d":"2024-04-23","p":"BIER","v":5},{"d":"2024-05-06","p":"BIER","v":5},{"d":"2024-06-25","p":"BIER","v":5},{"d":"2024-07-03","p":"BIER","v":5},{"d":"2024-07-19","p":"BIER","v":5},{"d":"2024-07-27","p":"BIER","v":5},{"d":"2024-08-24","p":"BIER","v":5},{"d":"2024-08-29","p":"BIER","v":5},{"d":"2024-09-06","p":"BIER","v":5},{"d":"2024-02-06","p":"BIER","v":4},{"d":"2024-09-17","p":"BIER","v":4},{"d":"2024-09-17","p":"BIER","v":3},
{"d":"2023-02-21","p":"KPÖ","v":1},{"d":"2023-03-23","p":"KPÖ","v":1},{"d":"2023-05-04","p":"KPÖ","v":7},{"d":"2023-05-15","p":"KPÖ","v":3},{"d":"2023-06-15","p":"KPÖ","v":5},{"d":"2023-06-28","p":"KPÖ","v":5},{"d":"2023-06-06","p":"KPÖ","v":4},{"d":"2023-06-22","p":"KPÖ","v":4},{"d":"2023-07-12","p":"KPÖ","v":3},{"d":"2023-08-09","p":"KPÖ","v":3},{"d":"2023-08-27","p":"KPÖ","v":3},{"d":"2023-09-13","p":"KPÖ","v":2},{"d":"2023-09-18","p":"KPÖ","v":3},{"d":"2023-09-26","p":"KPÖ","v":3},{"d":"2023-10-04","p":"KPÖ","v":2},{"d":"2023-10-19","p":"KPÖ","v":2},{"d":"2023-11-08","p":"KPÖ","v":3},{"d":"2023-11-15","p":"KPÖ","v":4},{"d":"2023-11-22","p":"KPÖ","v":2},{"d":"2023-11-28","p":"KPÖ","v":4},{"d":"2023-12-20","p":"KPÖ","v":3},{"d":"2023-12-27","p":"KPÖ","v":3},{"d":"2024-01-12","p":"KPÖ","v":2},{"d":"2024-01-24","p":"KPÖ","v":2},{"d":"2024-01-29","p":"KPÖ","v":2},{"d":"2024-02-06","p":"KPÖ","v":2},{"d":"2024-02-06","p":"KPÖ","v":3},{"d":"2024-02-13","p":"KPÖ","v":3},{"d":"2024-02-26","p":"KPÖ","v":3},{"d":"2024-03-13","p":"KPÖ","v":3},{"d":"2024-03-13","p":"KPÖ","v":5},{"d":"2024-03-20","p":"KPÖ","v":5},{"d":"2024-03-20","p":"KPÖ","v":5},{"d":"2024-04-03","p":"KPÖ","v":5},{"d":"2024-03-13","p":"KPÖ","v":4},{"d":"2024-03-26","p":"KPÖ","v":4},{"d":"2024-04-16","p":"KPÖ","v":4},{"d":"2024-04-23","p":"KPÖ","v":4},{"d":"2024-05-06","p":"KPÖ","v":4},{"d":"2024-05-15","p":"KPÖ","v":4},{"d":"2024-04-25","p":"KPÖ","v":3},{"d":"2024-05-15","p":"KPÖ","v":3},{"d":"2024-05-21","p":"KPÖ","v":3},{"d":"2024-05-27","p":"KPÖ","v":3},{"d":"2024-06-11","p":"KPÖ","v":2},{"d":"2024-06-18","p":"KPÖ","v":2},{"d":"2024-06-25","p":"KPÖ","v":2},{"d":"2024-07-11","p":"KPÖ","v":3},{"d":"2024-07-11","p":"KPÖ","v":4},{"d":"2024-07-19","p":"KPÖ","v":4},{"d":"2024-08-05","p":"KPÖ","v":2},{"d":"2024-08-18","p":"KPÖ","v":2},{"d":"2024-08-26","p":"KPÖ","v":2},{"d":"2024-08-26","p":"KPÖ","v":3},{"d":"2024-09-04","p":"KPÖ","v":3},{"d":"2024-09-04","p":"KPÖ","v":3},{"d":"2024-09-11","p":"KPÖ","v":3},{"d":"2024-09-17","p":"KPÖ","v":3}
]
},
"encoding": {
 "x": {"field": "d", "type": "temporal", "title": null,
  "scale": {"type": "utc", "nice": false, "domain": [{"year": 2022, "month": 9, "date": 24, "utc": true}, {"year": 2024, "month": 9, "date": 27, "utc": true}]},
  "axis": {"values": [{"year": 2022, "month": 10, "date": 1, "utc": true}, {"year": 2023, "month": 1, "date": 1, "utc": true}, {"year": 2023, "month": 4, "date": 1, "utc": true}, {"year": 2023, "month": 7, "date": 1, "utc": true}, {"year": 2023, "month": 10, "date": 1, "utc": true}, {"year": 2024, "month": 1, "date": 1, "utc": true}, {"year": 2024, "month": 4, "date": 1, "utc": true}, {"year": 2024, "month": 7, "date": 1, "utc": true}],
   "labelExpr": "[['Jän','Feb','Mär','Apr','Mai','Jun','Jul','Aug','Sep','Okt','Nov','Dez'][utcmonth(datum.value)], utcFormat(datum.value, '%Y')]",
   "grid": false, "domain": false, "ticks": false, "tickSize": 0, "labelPadding": 12, "labelFlush": false, "labelOverlap": false,
   "labelColor": "#666666", "labelFontSize": 11, "labelLineHeight": 12, "labelFont": "Liberation Sans"}}
},
"layer": [
{"data": {"values": [{"d": "2023-01-30"}]},
 "mark": {"type": "rule", "color": "#b9b9b9", "strokeWidth": 1.5}},
{"data": {"name": "polls"},
 "mark": {"type": "circle", "size": 72, "opacity": 0.22},
 "encoding": {
  "y": {"field": "v", "type": "quantitative", "title": null, "scale": {"domain": [0, 35], "nice": false, "zero": false}},
  "color": {"field": "p", "type": "nominal", "legend": null, "scale": {"domain": ["FPÖ","SPÖ","ÖVP","Grüne","NEOS","MFG","BIER","KPÖ"]}}}},
{"data": {"name": "avg"},
 "mark": {"type": "line", "strokeWidth": 2},
 "encoding": {
  "y": {"field": "v", "type": "quantitative", "title": null, "scale": {"domain": [0, 35], "nice": false, "zero": false}},
  "color": {"field": "p", "type": "nominal", "legend": null, "scale": {"domain": ["FPÖ","SPÖ","ÖVP","Grüne","NEOS","MFG","BIER","KPÖ"]}},
  "detail": {"field": "s", "type": "nominal"}}}
]
}
